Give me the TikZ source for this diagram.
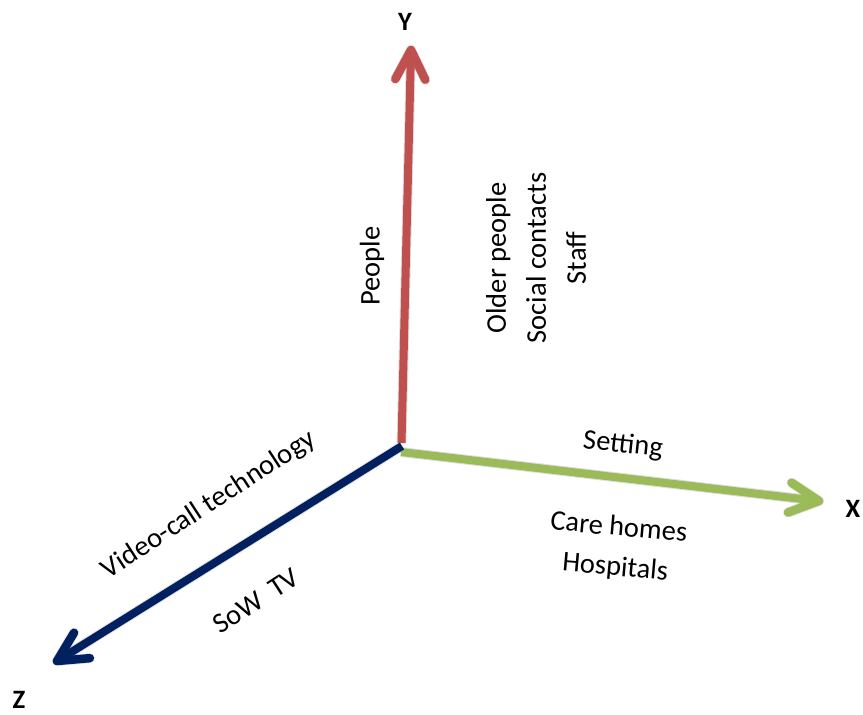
\documentclass[tikz,border=0pt]{standalone}
\usepackage{fontspec}
\setmainfont{Carlito}
\usetikzlibrary{calc}
\definecolor{axisred}{RGB}{192,80,77}
\definecolor{axisgreen}{RGB}{155,187,89}
\definecolor{axisnavy}{RGB}{0,32,96}

\begin{document}
\begin{tikzpicture}[x=1pt,y=-1pt,
  shaft/.style={line width=8pt, line cap=butt},
  barb/.style={line width=8.5pt, line cap=round, line join=round},
  soft/.style={draw=black, opacity=0.12},
  axislabel/.style={font=\fontsize{26.5}{26.5}\selectfont\bfseries, inner sep=0pt},
  txt/.style={font=\fontsize{28.5}{40}\selectfont, inner sep=0pt, align=center},
]
\useasboundingbox (0,0) rectangle (863,715);

% axis end points
\coordinate (oY) at (401.5,443);
\coordinate (oX) at (401,452);
\coordinate (oZ) at (402,446);
\coordinate (tipY) at (411,50);
\coordinate (tipX) at (819,501);
\coordinate (tipZ) at (57,661);

% soft drop shadows
\begin{scope}[shift={(3,4)}]
  \draw[shaft, soft, line width=10pt] (oY) -- (tipY);
  \draw[barb, soft, line width=10pt] ($(tipY)!33pt!27:(oY)$) -- (tipY) -- ($(tipY)!33pt!-27:(oY)$);
  \draw[shaft, soft, line width=10pt] (oX) -- (tipX);
  \draw[barb, soft, line width=10pt] ($(tipX)!33pt!27:(oX)$) -- (tipX) -- ($(tipX)!33pt!-27:(oX)$);
  \draw[shaft, soft, line width=10pt] (oZ) -- (tipZ);
  \draw[barb, soft, line width=10pt] ($(tipZ)!33pt!27:(oZ)$) -- (tipZ) -- ($(tipZ)!33pt!-27:(oZ)$);
\end{scope}

% Y axis
\draw[shaft, axisred] (oY) -- ($(tipY)!3pt!(oY)$);
\draw[barb, axisred] ($(tipY)!33pt!27:(oY)$) -- (tipY) -- ($(tipY)!33pt!-27:(oY)$);
% X axis
\draw[shaft, axisgreen] (oX) -- ($(tipX)!3pt!(oX)$);
\draw[barb, axisgreen] ($(tipX)!33pt!27:(oX)$) -- (tipX) -- ($(tipX)!33pt!-27:(oX)$);
% Z axis
\draw[shaft, axisnavy] (oZ) -- ($(tipZ)!3pt!(oZ)$);
\draw[barb, axisnavy] ($(tipZ)!33pt!27:(oZ)$) -- (tipZ) -- ($(tipZ)!33pt!-27:(oZ)$);

% axis letters
\node[axislabel] (lY) at (405,22) {Y};
\node[axislabel] (lX) at (853,509) {X};
\node[axislabel] (lZ) at (19,700) {Z};

% axis titles and entries
\node[txt, rotate=90] (people) at (372,266) {People};
\node[txt, rotate=90] (peopleList) at (536,258) {Older people\\Social contacts\\Staff};
\node[txt, rotate=-6] (setting) at (623,445) {Setting};
\node[txt, rotate=-5] (settingList) at (617,548) {Care homes\\Hospitals};
\node[txt, rotate=33] (tech) at (209,505) {Video-call technology};
\node[txt, rotate=33] (techList) at (256,601) {SoW\ \ TV};
\end{tikzpicture}
\end{document}
